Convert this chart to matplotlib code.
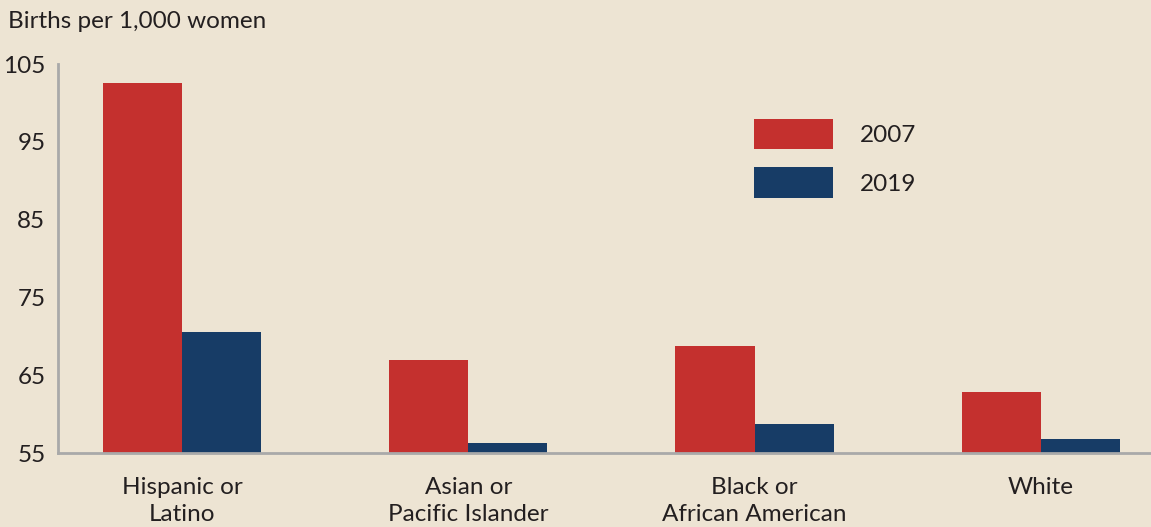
import matplotlib
matplotlib.use("Agg")
import matplotlib.pyplot as plt
import numpy as np

categories = ["Hispanic or\nLatino", "Asian or\nPacific Islander", "Black or\nAfrican American", "White"]
series_names = ["2007", "2019"]
values_2007 = [102.6, 66.9, 68.8, 62.8]
values_2019 = [70.6, 56.3, 58.7, 56.8]
yticks = [55, 65, 75, 85, 95, 105]
ylabel = "Births per 1,000 women"

BG = "#EDE4D3"
RED = "#C4302E"
BLUE = "#173C66"
TXT = "#231F20"
GREY = "#A9A9A9"

plt.rcParams['font.family'] = ['Lato', 'DejaVu Sans']
FS = 17.5

W, H = 1151, 527
fig = plt.figure(figsize=(W/100, H/100), dpi=100, facecolor=BG)
ax = fig.add_axes([58/W, (H-453)/H, (W-58)/W, (453-64)/H], facecolor=BG)

x = np.arange(len(categories))
bw = 0.276
ax.bar(x - bw/2, np.array(values_2007) - 55, bw, bottom=55, color=RED, label=series_names[0])
ax.bar(x + bw/2, np.array(values_2019) - 55, bw, bottom=55, color=BLUE, label=series_names[1])

ax.set_ylim(55, 105)
ax.set_xlim(-0.433, 3.385)
ax.set_yticks(yticks)
ax.set_yticklabels([str(t) for t in yticks], fontsize=FS, color=TXT)
ax.set_xticks(x)
ax.set_xticklabels(categories, fontsize=FS, color=TXT, linespacing=1.32)
ax.tick_params(axis='both', length=0)
ax.tick_params(axis='y', pad=9)
ax.tick_params(axis='x', pad=17.5)
for s in ["top", "right"]:
    ax.spines[s].set_visible(False)
for s in ["left", "bottom"]:
    ax.spines[s].set_color(GREY)
    ax.spines[s].set_linewidth(2)

fig.text(8/W, 1 - 21/H, ylabel, fontsize=FS, color=TXT, ha='left', va='center')

fs_px = FS * 100 / 72
leg = ax.legend(loc='upper left', bbox_to_anchor=(754/W, 1 - 119/H), bbox_transform=fig.transFigure,
                frameon=False, fontsize=FS, handlelength=79/fs_px, handleheight=1.55,
                labelspacing=0.74, handletextpad=1.1, borderpad=0, borderaxespad=0)
for t in leg.get_texts():
    t.set_color(TXT)

fig.savefig("out.png", dpi=100, facecolor=BG)
